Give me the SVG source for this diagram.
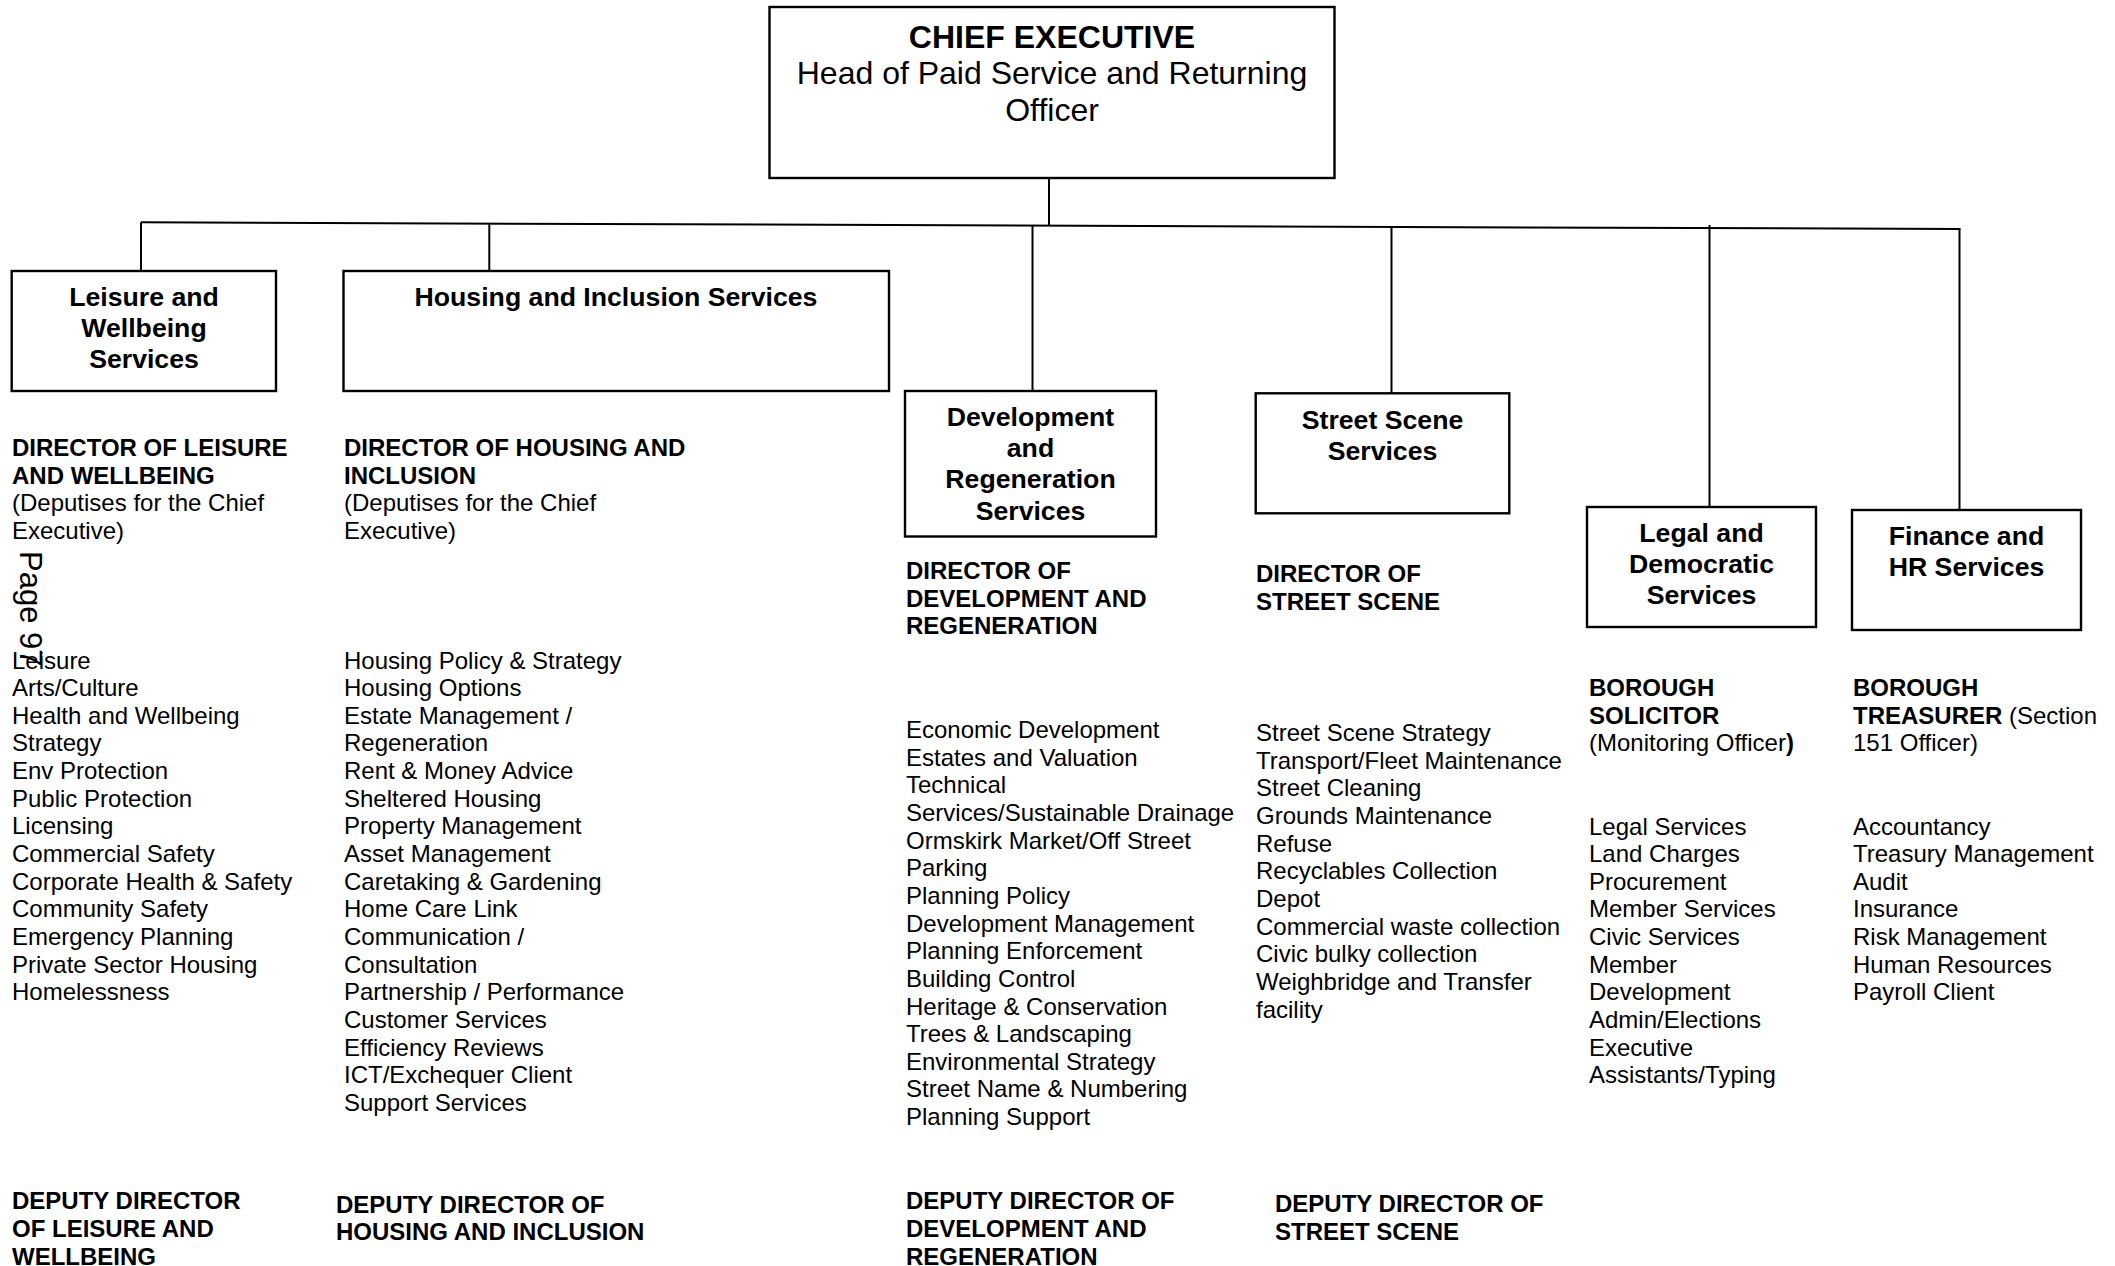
<svg xmlns="http://www.w3.org/2000/svg" width="2115" height="1266" viewBox="0 0 2115 1266">
<style>
text{font-family:"Liberation Sans",Arial,Helvetica,sans-serif;fill:#000}
.t{font-size:24px}
.b{font-weight:bold}
.bx{font-size:26.67px;font-weight:bold;text-anchor:middle}
.ce{font-size:32px;text-anchor:middle}
.box{fill:#fff;stroke:#000;stroke-width:2.4}
.ln{stroke:#000;stroke-width:2;fill:none}
</style>
<rect width="2115" height="1266" fill="#fff"/>
<g id="connectors">
<line class="ln" x1="1049" y1="178" x2="1049" y2="225.6"/>
<line class="ln" x1="141" y1="222.3" x2="1960.5" y2="229"/>
<line class="ln" x1="141" y1="222.3" x2="141" y2="271"/>
<line class="ln" x1="489.3" y1="223.6" x2="489.3" y2="270"/>
<line class="ln" x1="1032.5" y1="225.5" x2="1032.5" y2="391"/>
<line class="ln" x1="1391.5" y1="226.8" x2="1391.5" y2="393"/>
<line class="ln" x1="1709.5" y1="225" x2="1709.5" y2="507"/>
<line class="ln" x1="1959.5" y1="229" x2="1959.5" y2="510"/>
</g>
<g id="chief-executive">
<rect class="box" x="769.5" y="7" width="565" height="171"/>
<text class="ce b" x="1052" y="47.5">CHIEF EXECUTIVE</text>
<text class="ce" x="1052" y="84.2">Head of Paid Service and Returning</text>
<text class="ce" x="1052" y="120.9">Officer</text>
</g>
<g id="leisure">
<rect class="box" x="11.7" y="271" width="264.3" height="120"/>
<text class="bx" x="144" y="306">Leisure and</text>
<text class="bx" x="144" y="337.2">Wellbeing</text>
<text class="bx" x="144" y="368.4">Services</text>
</g>
<g id="housing">
<rect class="box" x="343.5" y="271" width="545.5" height="120"/>
<text class="bx" x="616" y="306">Housing and Inclusion Services</text>
</g>
<g id="development">
<rect class="box" x="905" y="391" width="251" height="145.5"/>
<text class="bx" x="1030.5" y="426">Development</text>
<text class="bx" x="1030.5" y="457.2">and</text>
<text class="bx" x="1030.5" y="488.4">Regeneration</text>
<text class="bx" x="1030.5" y="519.6">Services</text>
</g>
<g id="street-scene">
<rect class="box" x="1255.7" y="393.3" width="253.6" height="120"/>
<text class="bx" x="1382.5" y="428.5">Street Scene</text>
<text class="bx" x="1382.5" y="459.7">Services</text>
</g>
<g id="legal">
<rect class="box" x="1587" y="507" width="229" height="120"/>
<text class="bx" x="1701.5" y="542">Legal and</text>
<text class="bx" x="1701.5" y="573.2">Democratic</text>
<text class="bx" x="1701.5" y="604.4">Services</text>
</g>
<g id="finance">
<rect class="box" x="1852" y="510" width="229" height="120"/>
<text class="bx" x="1966.5" y="545">Finance and</text>
<text class="bx" x="1966.5" y="576.2">HR Services</text>
</g>
<g id="col-leisure">
<text class="t b" x="12" y="456"><tspan x="12">DIRECTOR OF LEISURE</tspan><tspan x="12" dy="27.65">AND WELLBEING</tspan></text>
<text class="t" x="12" y="511.3"><tspan x="12">(Deputises for the Chief</tspan><tspan x="12" dy="27.65">Executive)</tspan></text>
<text class="t" x="12" y="668.5"><tspan x="12">Leisure</tspan><tspan x="12" dy="27.65">Arts/Culture</tspan><tspan x="12" dy="27.65">Health and Wellbeing</tspan><tspan x="12" dy="27.65">Strategy</tspan><tspan x="12" dy="27.65">Env Protection</tspan><tspan x="12" dy="27.65">Public Protection</tspan><tspan x="12" dy="27.65">Licensing</tspan><tspan x="12" dy="27.65">Commercial Safety</tspan><tspan x="12" dy="27.65">Corporate Health &amp; Safety</tspan><tspan x="12" dy="27.65">Community Safety</tspan><tspan x="12" dy="27.65">Emergency Planning</tspan><tspan x="12" dy="27.65">Private Sector Housing</tspan><tspan x="12" dy="27.65">Homelessness</tspan></text>
<text class="t b" x="12" y="1209.3"><tspan x="12">DEPUTY DIRECTOR</tspan><tspan x="12" dy="27.65">OF LEISURE AND</tspan><tspan x="12" dy="27.65">WELLBEING</tspan></text>
</g>
<text id="page-number" x="0" y="0" font-size="31" transform="translate(20,551) rotate(90)">Page 97</text>
<g id="col-housing">
<text class="t b" x="344" y="456"><tspan x="344">DIRECTOR OF HOUSING AND</tspan><tspan x="344" dy="27.65">INCLUSION</tspan></text>
<text class="t" x="344" y="511.3"><tspan x="344">(Deputises for the Chief</tspan><tspan x="344" dy="27.65">Executive)</tspan></text>
<text class="t" x="344" y="668.5"><tspan x="344">Housing Policy &amp; Strategy</tspan><tspan x="344" dy="27.65">Housing Options</tspan><tspan x="344" dy="27.65">Estate Management /</tspan><tspan x="344" dy="27.65">Regeneration</tspan><tspan x="344" dy="27.65">Rent &amp; Money Advice</tspan><tspan x="344" dy="27.65">Sheltered Housing</tspan><tspan x="344" dy="27.65">Property Management</tspan><tspan x="344" dy="27.65">Asset Management</tspan><tspan x="344" dy="27.65">Caretaking &amp; Gardening</tspan><tspan x="344" dy="27.65">Home Care Link</tspan><tspan x="344" dy="27.65">Communication /</tspan><tspan x="344" dy="27.65">Consultation</tspan><tspan x="344" dy="27.65">Partnership / Performance</tspan><tspan x="344" dy="27.65">Customer Services</tspan><tspan x="344" dy="27.65">Efficiency Reviews</tspan><tspan x="344" dy="27.65">ICT/Exchequer Client</tspan><tspan x="344" dy="27.65">Support Services</tspan></text>
<text class="t b" x="336" y="1212.7"><tspan x="336">DEPUTY DIRECTOR OF</tspan><tspan x="336" dy="27.65">HOUSING AND INCLUSION</tspan></text>
</g>
<g id="col-development">
<text class="t b" x="906" y="579"><tspan x="906">DIRECTOR OF</tspan><tspan x="906" dy="27.65">DEVELOPMENT AND</tspan><tspan x="906" dy="27.65">REGENERATION</tspan></text>
<text class="t" x="906" y="738"><tspan x="906">Economic Development</tspan><tspan x="906" dy="27.65">Estates and Valuation</tspan><tspan x="906" dy="27.65">Technical</tspan><tspan x="906" dy="27.65">Services/Sustainable Drainage</tspan><tspan x="906" dy="27.65">Ormskirk Market/Off Street</tspan><tspan x="906" dy="27.65">Parking</tspan><tspan x="906" dy="27.65">Planning Policy</tspan><tspan x="906" dy="27.65">Development Management</tspan><tspan x="906" dy="27.65">Planning Enforcement</tspan><tspan x="906" dy="27.65">Building Control</tspan><tspan x="906" dy="27.65">Heritage &amp; Conservation</tspan><tspan x="906" dy="27.65">Trees &amp; Landscaping</tspan><tspan x="906" dy="27.65">Environmental Strategy</tspan><tspan x="906" dy="27.65">Street Name &amp; Numbering</tspan><tspan x="906" dy="27.65">Planning Support</tspan></text>
<text class="t b" x="906" y="1209.3"><tspan x="906">DEPUTY DIRECTOR OF</tspan><tspan x="906" dy="27.65">DEVELOPMENT AND</tspan><tspan x="906" dy="27.65">REGENERATION</tspan></text>
</g>
<g id="col-street">
<text class="t b" x="1256" y="582"><tspan x="1256">DIRECTOR OF</tspan><tspan x="1256" dy="27.65">STREET SCENE</tspan></text>
<text class="t" x="1256" y="741"><tspan x="1256">Street Scene Strategy</tspan><tspan x="1256" dy="27.65">Transport/Fleet Maintenance</tspan><tspan x="1256" dy="27.65">Street Cleaning</tspan><tspan x="1256" dy="27.65">Grounds Maintenance</tspan><tspan x="1256" dy="27.65">Refuse</tspan><tspan x="1256" dy="27.65">Recyclables Collection</tspan><tspan x="1256" dy="27.65">Depot</tspan><tspan x="1256" dy="27.65">Commercial waste collection</tspan><tspan x="1256" dy="27.65">Civic bulky collection</tspan><tspan x="1256" dy="27.65">Weighbridge and Transfer</tspan><tspan x="1256" dy="27.65">facility</tspan></text>
<text class="t b" x="1275" y="1212"><tspan x="1275">DEPUTY DIRECTOR OF</tspan><tspan x="1275" dy="27.65">STREET SCENE</tspan></text>
</g>
<g id="col-legal">
<text class="t b" x="1589" y="696"><tspan x="1589">BOROUGH</tspan><tspan x="1589" dy="27.65">SOLICITOR</tspan></text>
<text class="t" x="1589" y="751.3">(Monitoring Officer<tspan class="b">)</tspan></text>
<text class="t" x="1589" y="834.5"><tspan x="1589">Legal Services</tspan><tspan x="1589" dy="27.65">Land Charges</tspan><tspan x="1589" dy="27.65">Procurement</tspan><tspan x="1589" dy="27.65">Member Services</tspan><tspan x="1589" dy="27.65">Civic Services</tspan><tspan x="1589" dy="27.65">Member</tspan><tspan x="1589" dy="27.65">Development</tspan><tspan x="1589" dy="27.65">Admin/Elections</tspan><tspan x="1589" dy="27.65">Executive</tspan><tspan x="1589" dy="27.65">Assistants/Typing</tspan></text>
</g>
<g id="col-finance">
<text class="t b" x="1853" y="696">BOROUGH</text>
<text class="t" x="1853" y="723.65"><tspan class="b">TREASURER</tspan> (Section</text>
<text class="t" x="1853" y="751.3">151 Officer)</text>
<text class="t" x="1853" y="834.5"><tspan x="1853">Accountancy</tspan><tspan x="1853" dy="27.65">Treasury Management</tspan><tspan x="1853" dy="27.65">Audit</tspan><tspan x="1853" dy="27.65">Insurance</tspan><tspan x="1853" dy="27.65">Risk Management</tspan><tspan x="1853" dy="27.65">Human Resources</tspan><tspan x="1853" dy="27.65">Payroll Client</tspan></text>
</g>
</svg>
